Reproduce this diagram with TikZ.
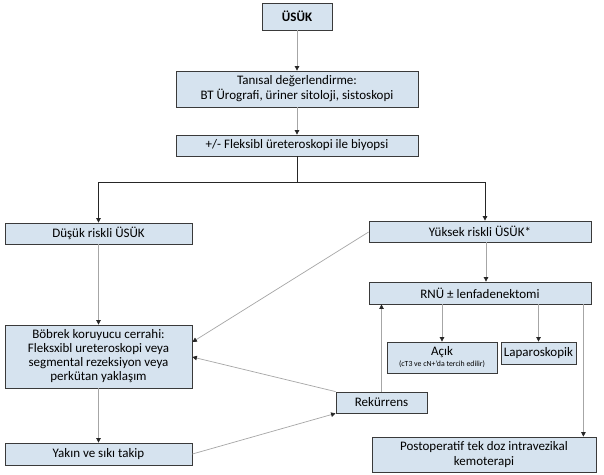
\documentclass[tikz,border=0pt]{standalone}
\usepackage{fontspec}
\setmainfont{Carlito}
\usetikzlibrary{arrows.meta,calc}
\definecolor{boxfill}{HTML}{D6E3EF}
\definecolor{boxline}{HTML}{3A3A3A}
\definecolor{conn}{HTML}{A6A6A6}
\tikzset{
  box/.style={draw=boxline, line width=0.8pt, fill=boxfill, inner sep=1pt,
    font=\fontsize{13}{15}\selectfont, align=center,
    preaction={fill=boxline!80, transform canvas={xshift=1.2pt,yshift=-1.2pt}}},
  arr/.style={draw=conn, line width=0.7pt, -{Triangle[length=4.5pt,width=4.5pt,fill=black!85,color=black!85]}},
  blk/.style={draw=black!85, line width=0.8pt}
}
\begin{document}
\begin{tikzpicture}[x=1pt,y=1pt]
\useasboundingbox (0,0) rectangle (604,-474);
\fill[white] (0,0) rectangle (604,-474);

\node[box, minimum width=70pt, minimum height=27pt, font=\fontsize{13}{15}\selectfont\bfseries] (usuk) at (297,-16.5) {ÜSÜK};
\node[box, minimum width=242pt, minimum height=36pt] (tanisal) at (297,-89) {Tanısal değerlendirme:\\BT Ürografi, üriner sitoloji, sistoskopi};
\node[box, minimum width=242pt, minimum height=21pt] (fleks) at (297,-145.5) {+/- Fleksibl üreteroskopi ile biyopsi};
\node[box, minimum width=187pt, minimum height=21pt] (dusuk) at (98.5,-233.5) {Düşük riskli ÜSÜK};
\node[box, minimum width=222pt, minimum height=21pt] (yuksek) at (480,-231.5) {Yüksek riskli ÜSÜK*};
\node[box, minimum width=222pt, minimum height=22pt] (rnu) at (480,-293) {RNÜ ± lenfadenektomi};
\node[box, minimum width=187pt, minimum height=63pt, font=\fontsize{13}{14}\selectfont] (bobrek) at (98.5,-356.5) {Böbrek koruyucu cerrahi:\\Fleksxibl ureteroskopi veya\\segmental rezeksiyon veya\\perkütan yaklaşım};
\node[box, minimum width=187pt, minimum height=22pt] (yakin) at (98.5,-454) {Yakın ve sıkı takip};
\node[box, minimum width=91pt, minimum height=21pt] (rek) at (381.5,-402.5) {Rekürrens};
\node[box, minimum width=110pt, minimum height=31pt, font=\fontsize{13}{12}\selectfont] (acik) at (442,-357.5) {Açık\\[-1pt]{\fontsize{7.8}{9}\selectfont(cT3 ve cN+’da tercih edilir)}};
\node[box, minimum width=75pt, minimum height=22pt] (lap) at (538.5,-353) {Laparoskopik};
\node[box, minimum width=224pt, minimum height=35pt, font=\fontsize{13}{14.5}\selectfont] (postop) at (484,-454.5) {Postoperatif tek doz intravezikal\\kemoterapi};

\draw[arr] (usuk) -- (tanisal);
\draw[arr] (tanisal) -- (fleks);
\coordinate (br) at (297,-182);
\coordinate (rx) at (381.5,0);
\draw[blk] (fleks.south) -- (br);
\draw[arr, draw=black!85, line width=0.8pt] (br) -| ([xshift=5pt]yuksek.north);
\draw[arr, draw=black!85, line width=0.8pt] (br) -| (dusuk.north);
\draw[arr] (dusuk) -- (bobrek);
\draw[arr] (bobrek) -- (yakin);
\draw[arr] ([xshift=6pt]yuksek.south) -- ([xshift=6pt]rnu.north);
\draw[arr] ([yshift=-0.5pt]yuksek.west) -- ([yshift=14.5pt]bobrek.east);
\draw[arr] (rek.north west) -- ([yshift=-0.5pt]bobrek.east);
\draw[arr] (yakin.east) -- (rek.south west);
\draw[arr] (rek.north -| rx) -- (rnu.south -| rx);
\draw[arr] (acik.north |- rnu.south) -- (acik.north);
\draw[arr] (lap.north |- rnu.south) -- (lap.north);
\coordinate (pin) at ([xshift=-13pt]postop.north east);
\draw[arr] (pin |- rnu.south) -- (pin);
\end{tikzpicture}
\end{document}
